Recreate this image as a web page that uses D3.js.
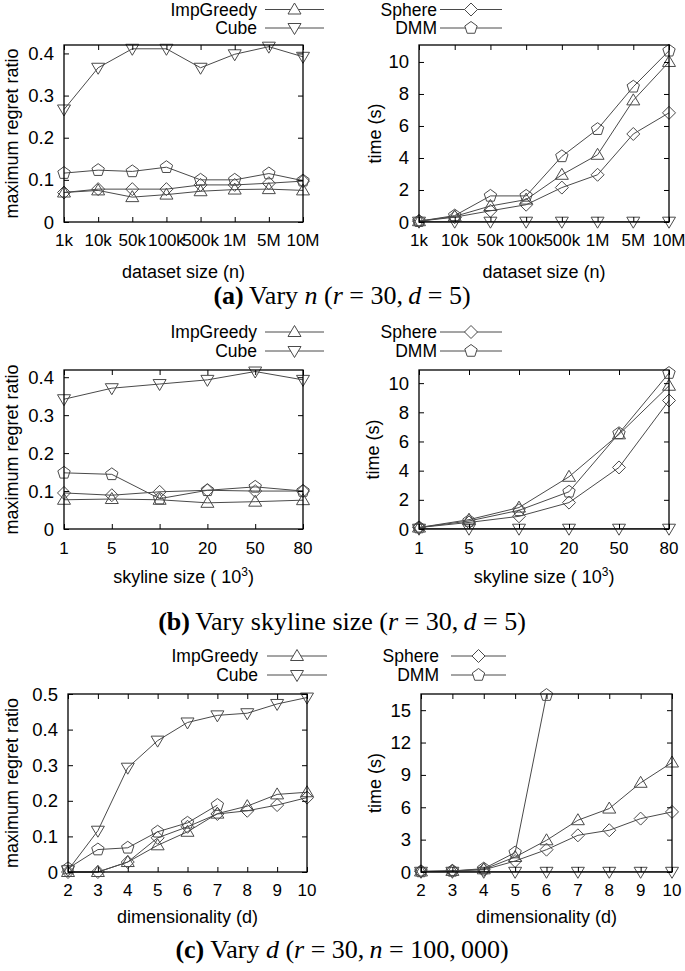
<!DOCTYPE html>
<html><head><meta charset="utf-8">
<script src="https://cdn.jsdelivr.net/npm/d3@7"></script>
<style>body{margin:0;background:#fff}svg{display:block}</style>
</head><body>
<svg id="c" width="685" height="971"></svg>
<script>
// ---------- data ----------
const nLabels = ["1k","10k","50k","100k","500k","1M","5M","10M"];
const skyLabels = ["1","5","10","20","50","80"];
const dimLabels = ["2","3","4","5","6","7","8","9","10"];
const seriesNames = ["ImpGreedy","Cube","Sphere","DMM"];

// (a) vary n
const aRegretImpGreedy = [0.070,0.075,0.059,0.065,0.073,0.077,0.078,0.075];
const aRegretCube      = [0.267,0.366,0.411,0.411,0.366,0.398,0.416,0.392];
const aRegretSphere    = [0.070,0.078,0.078,0.078,0.088,0.088,0.092,0.097];
const aRegretDMM       = [0.116,0.123,0.120,0.130,0.100,0.100,0.115,0.098];
const aTimeImpGreedy = [0.05,0.35,1.0,1.4,2.95,4.2,7.6,10.0];
const aTimeCube      = [0.02,0.02,0.02,0.02,0.02,0.02,0.02,0.02];
const aTimeSphere    = [0.05,0.30,0.7,1.08,2.15,2.95,5.5,6.82];
const aTimeDMM       = [0.05,0.40,1.63,1.63,4.1,5.8,8.45,10.7];

// (b) vary skyline size
const bRegretImpGreedy = [0.077,0.079,0.077,0.069,0.072,0.076];
const bRegretCube      = [0.342,0.371,0.382,0.393,0.415,0.393];
const bRegretSphere    = [0.095,0.089,0.098,0.102,0.100,0.100];
const bRegretDMM       = [0.148,0.144,0.080,0.102,0.111,0.100];
const bTimeImpGreedy = [0.10,0.64,1.47,3.58,6.49,9.82];
const bTimeCube      = [0.02,0.02,0.02,0.02,0.02,0.02];
const bTimeSphere    = [0.10,0.45,0.87,1.81,4.22,8.81];
const bTimeDMM       = [0.10,0.55,1.28,2.55,6.56,10.69];

// (c) vary d
const cRegretImpGreedy = [0.0,0.0,0.028,0.075,0.113,0.164,0.185,0.218,0.224];
const cRegretCube      = [0.005,0.116,0.293,0.369,0.420,0.440,0.446,0.472,0.490];
const cRegretSphere    = [0.0,0.0,0.028,0.096,0.127,0.163,0.172,0.188,0.209];
const cRegretDMM       = [0.010,0.063,0.068,0.113,0.138,0.188];
const cTimeImpGreedy = [0.05,0.10,0.25,1.39,2.94,4.8,5.88,8.27,10.15];
const cTimeCube      = [0.02,0.02,0.02,0.02,0.02,0.02,0.02,0.02,0.02];
const cTimeSphere    = [0.05,0.10,0.20,1.02,2.07,3.4,3.87,4.95,5.57];
const cTimeDMM       = [0.05,0.10,0.31,1.8,16.4];

const regretTicks1 = [0,0.1,0.2,0.3,0.4];
const regretTicks2 = [0,0.1,0.2,0.3,0.4,0.5];
const timeTicks1 = [0,2,4,6,8,10];
const timeTicks2 = [0,3,6,9,12,15];

// ---------- drawing ----------
const svg = d3.select("#c");
const FONT = "'Liberation Sans', Arial, Helvetica, sans-serif";
const SERIF = "'Liberation Serif', 'Times New Roman', serif";
const LINE = "#4a4a4a";

function markerPath(type){
  const p = d3.path();
  if(type===0){ p.moveTo(0,-6.5); p.lineTo(6.5,4.5); p.lineTo(-6.5,4.5); p.closePath(); }
  else if(type===1){ p.moveTo(0,6.5); p.lineTo(6.5,-4.5); p.lineTo(-6.5,-4.5); p.closePath(); }
  else if(type===2){ p.moveTo(0,-6.5); p.lineTo(6.5,0); p.lineTo(0,6.5); p.lineTo(-6.5,0); p.closePath(); }
  else { const r=6.5; for(let k=0;k<5;k++){ const a=(-90+72*k)*Math.PI/180; const x=r*Math.cos(a), y=r*Math.sin(a); if(k===0)p.moveTo(x,y); else p.lineTo(x,y);} p.closePath(); }
  return p.toString();
}

function panel(cfg){
  const [x0,x1,y0,y1] = cfg.box;
  const g = svg.append("g");
  const x = d3.scalePoint().domain(cfg.labels).range([x0,x1]);
  const y = d3.scaleLinear().domain([0,cfg.yMax]).range([y1,y0]);
  // series
  cfg.series.forEach((vals,si)=>{
    const pts = vals.map((v,i)=>[x(cfg.labels[i]), y(v)]);
    g.append("path").attr("d", d3.line()(pts)).attr("fill","none")
      .attr("stroke",LINE).attr("stroke-width",1);
    g.selectAll(null).data(pts).enter().append("path")
      .attr("d", markerPath(si)).attr("transform",d=>`translate(${d[0]},${d[1]})`)
      .attr("fill","none").attr("stroke",LINE).attr("stroke-width",1);
  });
  // ticks (gnuplot style: inward, mirrored)
  const tl = 5;
  const axB = g.append("g").attr("transform",`translate(0,${y1})`)
    .call(d3.axisBottom(x).tickSizeInner(-tl).tickSizeOuter(0).tickPadding(0));
  axB.select(".domain").remove();
  axB.selectAll("line").attr("stroke","#000");
  axB.selectAll("text").remove();
  const axT = g.append("g").attr("transform",`translate(0,${y0})`)
    .call(d3.axisTop(x).tickSizeInner(-tl).tickSizeOuter(0));
  axT.select(".domain").remove(); axT.selectAll("text").remove(); axT.selectAll("line").attr("stroke","#000");
  const axL = g.append("g").attr("transform",`translate(${x0},0)`)
    .call(d3.axisLeft(y).tickValues(cfg.yTicks).tickSizeInner(-tl).tickSizeOuter(0));
  axL.select(".domain").remove(); axL.selectAll("text").remove(); axL.selectAll("line").attr("stroke","#000");
  const axR = g.append("g").attr("transform",`translate(${x1},0)`)
    .call(d3.axisRight(y).tickValues(cfg.yTicks).tickSizeInner(-tl).tickSizeOuter(0));
  axR.select(".domain").remove(); axR.selectAll("text").remove(); axR.selectAll("line").attr("stroke","#000");
  // frame
  g.append("rect").attr("x",x0).attr("y",y0).attr("width",x1-x0).attr("height",y1-y0)
    .attr("fill","none").attr("stroke","#000").attr("stroke-width",1.3);
  // tick labels
  g.selectAll(null).data(cfg.labels).enter().append("text")
    .attr("x",d=>x(d)).attr("y",cfg.xTickY).attr("text-anchor","middle")
    .attr("font-family",FONT).attr("font-size",17).text(d=>d);
  g.selectAll(null).data(cfg.yTicks).enter().append("text")
    .attr("x",x0-10).attr("y",d=>y(d)+6.5).attr("text-anchor","end")
    .attr("font-family",FONT).attr("font-size",18.5).text(cfg.fmt);
  // axis titles
  g.append("text").attr("transform",`translate(${cfg.yLabX},${(y0+y1)/2}) rotate(-90)`)
    .attr("text-anchor","middle").attr("font-family",FONT).attr("font-size",18).text(cfg.yLab);
  const xt = g.append("text").attr("x",(x0+x1)/2).attr("y",cfg.xLabY).attr("text-anchor","middle")
    .attr("font-family",FONT).attr("font-size",18);
  if(cfg.sup){ xt.append("tspan").text(cfg.xLab); xt.append("tspan").attr("dy",-7).attr("font-size",12).text(cfg.sup); xt.append("tspan").attr("dy",7).text(")"); }
  else xt.text(cfg.xLab);
  // legend
  cfg.legend.forEach((L)=>{
    const si = L.idx;
    g.append("text").attr("x",L.tx).attr("y",L.y+6).attr("text-anchor","end")
      .attr("font-family",FONT).attr("font-size",17.5).text(seriesNames[si]);
    g.append("line").attr("x1",L.l0).attr("x2",L.l1).attr("y1",L.y).attr("y2",L.y)
      .attr("stroke",LINE).attr("stroke-width",1);
    g.append("path").attr("d",markerPath(si)).attr("transform",`translate(${(L.l0+L.l1)/2},${L.y})`)
      .attr("fill","#fff").attr("stroke",LINE).attr("stroke-width",1);
  });
}

const fmtR = d => d===0 ? "0" : d.toFixed(1);
const fmtT = d => String(d);

function legendL(yA,yB){ return [{idx:0,tx:257,l0:265,l1:324,y:yA},{idx:1,tx:257,l0:265,l1:324,y:yB}]; }
function legendR(yA,yB,tx,l0,l1){ return [{idx:2,tx:tx,l0:l0,l1:l1,y:yA},{idx:3,tx:tx,l0:l0,l1:l1,y:yB}]; }

// (a)
panel({box:[64,303,45,222], yMax:0.42, yTicks:regretTicks1, fmt:fmtR, labels:nLabels,
  series:[aRegretImpGreedy,aRegretCube,aRegretSphere,aRegretDMM],
  yLab:"maximum regret ratio", yLabX:18, xLab:"dataset size (n)", xLabY:278, xTickY:246,
  legend:legendL(9.5,28)});
panel({box:[419,669,45,222], yMax:11.06, yTicks:timeTicks1, fmt:fmtT, labels:nLabels,
  series:[aTimeImpGreedy,aTimeCube,aTimeSphere,aTimeDMM],
  yLab:"time (s)", yLabX:381, xLab:"dataset size (n)", xLabY:278, xTickY:246,
  legend:legendR(9.5,28,437,440,502)});
// (b)
panel({box:[64,303,370,529], yMax:0.419, yTicks:regretTicks1, fmt:fmtR, labels:skyLabels,
  series:[bRegretImpGreedy,bRegretCube,bRegretSphere,bRegretDMM],
  yLab:"maximum regret ratio", yLabX:18, xLab:"skyline size ( 10", sup:"3", xLabY:583, xTickY:554,
  legend:legendL(332,351)});
panel({box:[419,669,370,529], yMax:10.9, yTicks:timeTicks1, fmt:fmtT, labels:skyLabels,
  series:[bTimeImpGreedy,bTimeCube,bTimeSphere,bTimeDMM],
  yLab:"time (s)", yLabX:379, xLab:"skyline size ( 10", sup:"3", xLabY:583, xTickY:554,
  legend:legendR(332,351,437,440,502)});
// (c)
panel({box:[68,307,694,872], yMax:0.5, yTicks:regretTicks2, fmt:fmtR, labels:dimLabels,
  series:[cRegretImpGreedy,cRegretCube,cRegretSphere,cRegretDMM],
  yLab:"maximum regret ratio", yLabX:18, xLab:"dimensionality (d)", xLabY:923, xTickY:896,
  legend:legendL(656,675).map(l=>({...l,l0:267,l1:327,tx:258}))});
panel({box:[421,672,694,872], yMax:16.5, yTicks:timeTicks2, fmt:fmtT, labels:dimLabels,
  series:[cTimeImpGreedy,cTimeCube,cTimeSphere,cTimeDMM],
  yLab:"time (s)", yLabX:381, xLab:"dimensionality (d)", xLabY:923, xTickY:896,
  legend:legendR(656,675,439,451,506)});

// captions
function caption(y, parts){
  const t = svg.append("text").attr("x",342).attr("y",y).attr("text-anchor","middle")
    .attr("font-family",SERIF).attr("font-size",26).attr("xml:space","preserve");
  parts.forEach(p=>{ const s=t.append("tspan").text(p[0]);
    if(p[1]==="b") s.attr("font-weight","bold");
    if(p[1]==="i") s.attr("font-style","italic"); });
}
const EQ = " = ";
caption(304, [["(a)","b"],["\u2009Vary ",""],["n","i"],[" (",""],["r","i"],[EQ+"30,\u2009",""],["d","i"],[EQ+"5)",""]]);
caption(630, [["(b)","b"],["\u2009Vary skyline size (",""],["r","i"],[EQ+"30,\u2009",""],["d","i"],[EQ+"5)",""]]);
caption(958, [["(c)","b"],[" Vary ",""],["d","i"],[" (",""],["r","i"],[EQ+"30,\u2009",""],["n","i"],[EQ+"100,\u2009000)",""]]);
</script>
</body></html>
